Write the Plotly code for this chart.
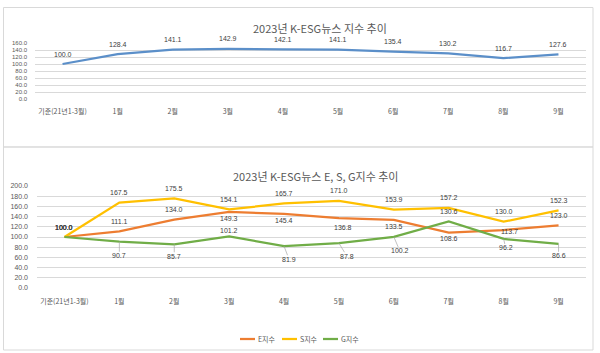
import plotly.graph_objects as go

# ---------------- data ----------------
categories = ["기준(21년1-3월)", "1월", "2월", "3월", "4월", "5월", "6월", "7월", "8월", "9월"]
total_index = [100.0, 128.4, 141.1, 142.9, 142.1, 141.1, 135.4, 130.2, 116.7, 127.6]
e_index = [100.0, 111.1, 134.0, 149.3, 145.4, 136.8, 133.5, 108.6, 113.7, 123.0]
s_index = [100.0, 167.5, 175.5, 154.1, 165.7, 171.0, 153.9, 157.2, 130.0, 152.3]
g_index = [100.0, 90.7, 85.7, 101.2, 81.9, 87.8, 100.2, 130.6, 96.2, 86.6]
series_names = ["E지수", "S지수", "G지수"]
title_top = "2023년 K-ESG뉴스 지수 추이"
title_bottom = "2023년 K-ESG뉴스 E, S, G지수 추이"

# ---------------- style ----------------
W, H = 600, 353
FONT = "Noto Sans CJK KR"
NUMFONT = "Liberation Sans, Noto Sans CJK KR"
GREY = "#595959"
LABEL = "#404040"
GRID = "#D9D9D9"
BLUE = "#5B8FC9"
ORANGE = "#ED7D31"
YELLOW = "#FFC000"
GREEN = "#70AD47"

# label offsets (dx, dy in px; dy>0 = downward) and whether a leader line is drawn
top_off = [(0, -10, False)] * 10
e_off = [(0, -10, False), (0, -10, False), (0, -10, False), (0, 7, False), (0, 7, False),
         (4, 9, False), (0, 7, False), (0, 6, False), (6, 1, False), (0, -10, False)]
s_off = [(0, -10, False)] * 10
g_off = [(0, -10, False), (0, 14, True), (0, 12, True), (0, -6, False), (5, 13, True),
         (8, 13, True), (6, 14, True), (0, -10, False), (2, 9, True), (0, 12, True)]


def px_x(p):
    return p / W


def px_y(p):
    return 1 - p / H


fig = go.Figure()

fig.add_trace(go.Scatter(x=categories, y=total_index, mode="lines", line=dict(color=BLUE, width=2.25),
                         xaxis="x", yaxis="y", showlegend=False, hoverinfo="skip"))
for name, vals, col in zip(series_names, [e_index, s_index, g_index], [ORANGE, YELLOW, GREEN]):
    fig.add_trace(go.Scatter(x=categories, y=vals, mode="lines", name=name,
                             line=dict(color=col, width=2.25),
                             xaxis="x2", yaxis="y2", showlegend=False, hoverinfo="skip"))

annotations = []


def add_labels(vals, offs, xref, yref):
    for i, (c, v) in enumerate(zip(categories, vals)):
        dx, dy, leader = offs[i]
        annotations.append(dict(
            x=c, y=v, xref=xref, yref=yref, text=f"{v:.1f}",
            showarrow=True, ax=dx, ay=dy, axref="pixel", ayref="pixel",
            arrowhead=0, arrowwidth=0.7, standoff=0,
            arrowcolor="#A6A6A6" if leader else "rgba(0,0,0,0)",
            font=dict(family=NUMFONT, size=7, color=LABEL), borderpad=0,
        ))


add_labels(total_index, top_off, "x", "y")
add_labels(e_index, e_off, "x2", "y2")
add_labels(s_index, s_off, "x2", "y2")
add_labels(g_index, g_off, "x2", "y2")

# titles
annotations.append(dict(x=px_x(320), y=px_y(28), xref="paper", yref="paper", text=title_top,
                        showarrow=False, xanchor="center", yanchor="middle",
                        font=dict(family=FONT, size=11, color=GREY)))
annotations.append(dict(x=px_x(315), y=px_y(176), xref="paper", yref="paper", text=title_bottom,
                        showarrow=False, xanchor="center", yanchor="middle",
                        font=dict(family=FONT, size=11, color=GREY)))

shapes = []
# chart borders
shapes.append(dict(type="rect", xref="paper", yref="paper", x0=px_x(3.5), x1=px_x(593), y0=px_y(147), y1=px_y(7.5),
                   line=dict(color=GRID, width=1), fillcolor="rgba(0,0,0,0)", layer="below"))
shapes.append(dict(type="rect", xref="paper", yref="paper", x0=px_x(3.5), x1=px_x(593), y0=px_y(350), y1=px_y(147),
                   line=dict(color=GRID, width=1), fillcolor="rgba(0,0,0,0)", layer="below"))

# manual legend
legend_x = [240, 282, 323]
for name, col, lx in zip(series_names, [ORANGE, YELLOW, GREEN], legend_x):
    shapes.append(dict(type="line", xref="paper", yref="paper", x0=px_x(lx), x1=px_x(lx + 15),
                       y0=px_y(339), y1=px_y(339), line=dict(color=col, width=2.25)))
    annotations.append(dict(x=px_x(lx + 16), y=px_y(339), xref="paper", yref="paper", text=name,
                            showarrow=False, xanchor="left", yanchor="middle",
                            font=dict(family=FONT, size=7, color=GREY)))

axis_font = dict(family=FONT, size=7, color=GREY)
num_font = dict(family=NUMFONT, size=7, color=GREY)
top_y_font = dict(family=NUMFONT, size=6, color=GREY)
cat_range = [-0.5, len(categories) - 0.5]
fig.update_layout(
    width=W, height=H, margin=dict(l=0, r=0, t=0, b=0),
    paper_bgcolor="white", plot_bgcolor="white",
    xaxis=dict(domain=[px_x(35), px_x(586)], type="category", range=cat_range, showgrid=False,
               zeroline=False, showline=False, ticks="", tickfont=axis_font, anchor="y",
               ticklabelstandoff=7, automargin=False),
    yaxis=dict(domain=[px_y(99), px_y(43)], range=[0, 160], tickvals=list(range(0, 161, 20)),
               tickformat=".1f", showgrid=True, gridcolor=GRID, gridwidth=0.75, zeroline=False,
               showline=False, ticks="", tickfont=top_y_font, anchor="x", ticklabelstandoff=7,
               automargin=False),
    xaxis2=dict(domain=[px_x(37), px_x(586)], type="category", range=cat_range, showgrid=False,
                zeroline=False, showline=False, ticks="", tickfont=axis_font, anchor="y2",
                ticklabelstandoff=8, automargin=False),
    yaxis2=dict(domain=[px_y(288), px_y(186)], range=[0, 200], tickvals=list(range(0, 201, 20)),
                tickformat=".1f", showgrid=True, gridcolor=GRID, gridwidth=0.75, zeroline=False,
                showline=False, ticks="", tickfont=num_font, anchor="x2", ticklabelstandoff=8,
                automargin=False),
    annotations=annotations, shapes=shapes, showlegend=False,
)

fig.write_html("out.html")
